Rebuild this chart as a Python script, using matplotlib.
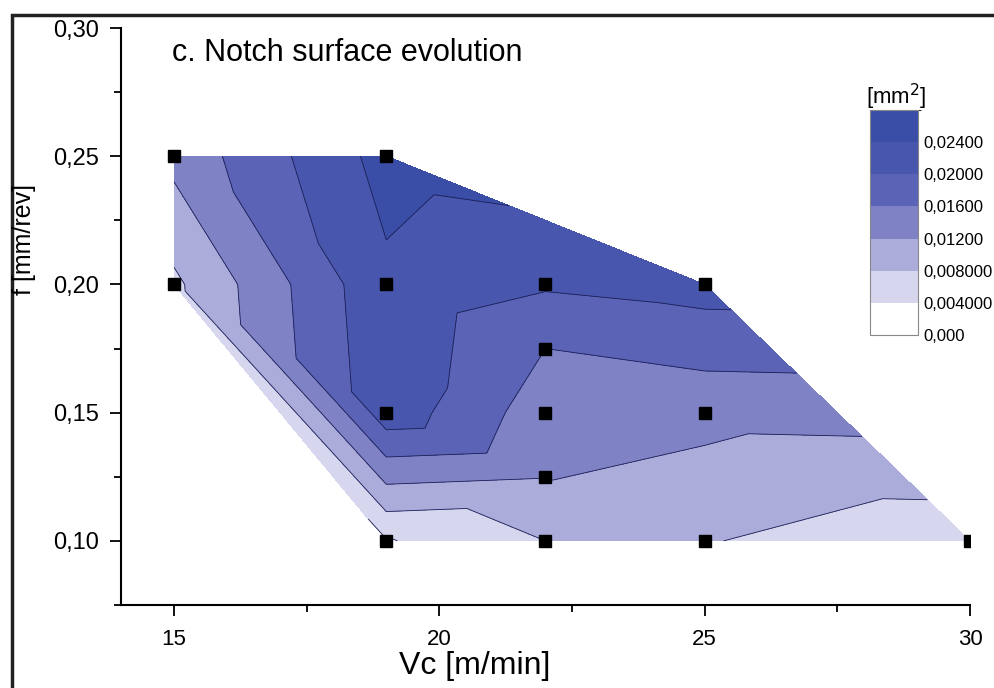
import numpy as np
import matplotlib
matplotlib.use("Agg")
import matplotlib.pyplot as plt
import matplotlib.tri as mtri
from matplotlib.colors import ListedColormap, BoundaryNorm
from matplotlib.patches import Rectangle
from matplotlib.ticker import MultipleLocator, FuncFormatter

plt.rcParams['font.family'] = ['Liberation Sans', 'DejaVu Sans']

# measured points: cutting speed, feed, notch surface
vc = [15, 19, 15, 19, 22, 25, 22, 19, 22, 25, 22, 19, 22, 25, 30]
feed = [0.25, 0.25, 0.20, 0.20, 0.20, 0.20, 0.175, 0.15, 0.15, 0.15, 0.125, 0.10, 0.10, 0.10, 0.10]
notch = [0.0132, 0.0255, 0.0072, 0.0232, 0.0205, 0.0216, 0.0160, 0.0225,
         0.0138, 0.0133, 0.0122, 0.0037, 0.0080, 0.0082, 0.0054]

levels = [0.0, 0.004, 0.008, 0.012, 0.016, 0.020, 0.024, 0.028]
level_labels = ["0,000", "0,004000", "0,008000", "0,01200", "0,01600", "0,02000", "0,02400"]
colors = ['#ffffff', '#d6d6ee', '#abacda', '#7f82c5', '#5a63b5', '#4856ad', '#3b4ea7']

x_ticks = [15, 20, 25, 30]
y_ticks = [0.10, 0.15, 0.20, 0.25, 0.30]

cmap = ListedColormap(colors)
norm = BoundaryNorm(levels, cmap.N)

# triangulate in a roughly isotropic space, then use real coordinates
t0 = mtri.Triangulation(vc, np.array(feed) * 100)
tri = mtri.Triangulation(vc, feed, t0.triangles)

fig = plt.figure(figsize=(9.95, 6.88), dpi=100)
ax = fig.add_axes([121/995, 83/688, 849/995, 577/688])

cs = ax.tricontourf(tri, notch, levels=levels, cmap=cmap, norm=norm)
ax.tricontour(tri, notch, levels=levels[1:-1], colors='#1c1f55', linewidths=0.6)
ax.plot(vc, feed, 's', color='black', markersize=8.5, clip_on=True)

ax.set_xlim(14, 30)
ax.set_ylim(0.075, 0.30)
ax.set_xticks(x_ticks)
ax.set_yticks(y_ticks)
ax.xaxis.set_minor_locator(MultipleLocator(2.5))
ax.yaxis.set_minor_locator(MultipleLocator(0.025))
ax.yaxis.set_major_formatter(FuncFormatter(lambda v, p: f"{v:.2f}".replace('.', ',')))
ax.tick_params(which='major', direction='out', length=8, width=1.3)
ax.tick_params(which='minor', direction='out', length=5, width=1.3)
ax.tick_params(axis='y', labelsize=17, pad=8)
ax.tick_params(axis='x', labelsize=16, pad=9)
for s in ['top', 'right']:
    ax.spines[s].set_visible(False)
for s in ['left', 'bottom']:
    ax.spines[s].set_linewidth(1.5)

ax.text(14.96, 0.2903, "c. Notch surface evolution", ha='left', va='center', fontsize=22)
fig.text(475/995, 1 - 666/688, "Vc [m/min]", ha='center', va='center', fontsize=23)
fig.text(24/995, 1 - 240/688, "f [mm/rev]", ha='center', va='center', fontsize=18, rotation=90)

# colour scale
cax = fig.add_axes([870/995, 1 - 335/688, 48/995, 225/688])
cb = fig.colorbar(cs, cax=cax, ticks=levels[:-1])
cb.ax.set_yticklabels(level_labels)
cb.ax.tick_params(length=0, labelsize=12, pad=4)
cb.outline.set_edgecolor('#888888')
cb.outline.set_linewidth(0.8)
fig.text(866/995, 1 - 97/688, "[mm$^2$]", ha='left', va='center', fontsize=16)

# outer frame of the panel
fig.patches.append(Rectangle((12/995, -0.1), 1.2, 1.1 - 15/688, transform=fig.transFigure,
                             fill=False, edgecolor='#222222', linewidth=2.5))

fig.savefig("out.png", dpi=100)
